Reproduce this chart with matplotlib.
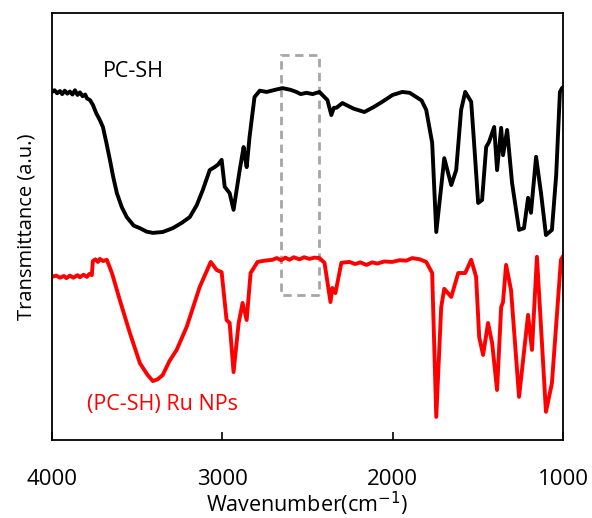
import numpy as np
import matplotlib
matplotlib.use('Agg')
import matplotlib.pyplot as plt
from matplotlib.patches import Rectangle

plt.rcParams['font.family'] = ['Open Sans', 'DejaVu Sans']

# PC-SH (black)
wn_pcsh = [4000, 3985, 3970, 3953, 3940, 3925, 3910, 3895, 3880, 3865, 3850, 3836, 3820, 3805,
           3795, 3777, 3760, 3740, 3720, 3701, 3680, 3660, 3640, 3619, 3590, 3561, 3520, 3484,
           3445, 3408, 3350, 3291, 3240, 3191, 3150, 3115, 3074, 3045, 3025, 3004, 2986, 2957,
           2934, 2898, 2875, 2866, 2857, 2840, 2811, 2780, 2740, 2690, 2647, 2600, 2565, 2540,
           2506, 2470, 2430, 2383, 2360, 2345, 2330, 2295, 2230, 2166, 2110, 2061, 2000, 1943,
           1900, 1861, 1830, 1803, 1768, 1744, 1715, 1697, 1656, 1627, 1598, 1574, 1539, 1522,
           1498, 1475, 1451, 1434, 1404, 1387, 1363, 1352, 1328, 1299, 1258, 1229, 1205, 1188,
           1158, 1129, 1100, 1065, 1040, 1018, 1006, 1000]
t_pcsh = [81.5, 81.9, 81.2, 81.7, 81.0, 81.8, 81.1, 81.6, 80.9, 81.9, 80.8, 81.4, 80.5, 80.9,
          80.0, 79.6, 78.5, 76.5, 75.0, 73.3, 69.5, 65.6, 61.5, 57.8, 54.5, 52.2, 50.2, 49.6,
          48.8, 48.5, 48.7, 49.6, 50.8, 52.2, 55.0, 58.5, 63.2, 63.9, 64.5, 65.6, 59.3, 57.8,
          53.9, 63.2, 68.6, 66.0, 63.9, 71.0, 80.3, 81.8, 81.5, 82.0, 82.4, 82.0, 81.5, 81.0,
          81.3, 81.0, 81.5, 79.6, 76.1, 77.8, 77.8, 78.9, 77.6, 76.8, 78.0, 79.2, 80.8, 81.5,
          81.3, 80.3, 79.5, 77.3, 69.6, 48.7, 59.3, 66.0, 59.7, 63.2, 77.3, 81.5, 79.2, 69.6,
          55.5, 56.2, 68.6, 69.8, 73.3, 63.2, 73.1, 66.7, 72.6, 60.2, 49.2, 49.6, 56.7, 53.2,
          66.3, 57.8, 48.0, 49.2, 62.0, 81.5, 82.4, 82.6]

# (PC-SH) Ru NPs (red)
wn_ru = [4000, 3975, 3953, 3930, 3915, 3895, 3875, 3850, 3836, 3815, 3795, 3780, 3766, 3760,
         3745, 3730, 3719, 3700, 3678, 3648, 3602, 3543, 3484, 3440, 3408, 3380, 3350, 3310,
         3268, 3209, 3133, 3068, 3033, 3004, 2975, 2957, 2934, 2904, 2881, 2857, 2834, 2793,
         2750, 2705, 2680, 2655, 2630, 2606, 2580, 2547, 2520, 2488, 2460, 2430, 2400, 2365,
         2354, 2336, 2301, 2254, 2220, 2190, 2154, 2120, 2090, 2050, 2002, 1960, 1920, 1885,
         1840, 1803, 1768, 1744, 1715, 1697, 1656, 1615, 1574, 1539, 1510, 1492, 1469, 1440,
         1416, 1387, 1363, 1352, 1334, 1305, 1258, 1205, 1182, 1153, 1100, 1065, 1012, 1000]
t_ru = [38.2, 38.5, 38.0, 38.4, 37.9, 38.5, 38.0, 38.6, 38.1, 38.7, 38.2, 38.9, 38.6, 41.9,
        42.3, 41.7, 42.4, 41.9, 42.2, 39.1, 32.8, 25.1, 18.0, 15.3, 13.8, 14.2, 15.2, 18.5,
        21.1, 26.5, 35.8, 41.7, 39.8, 39.3, 28.1, 27.4, 15.9, 27.4, 32.1, 28.1, 39.1, 41.7,
        42.0, 42.2, 42.6, 42.1, 42.7, 42.2, 42.8, 42.3, 42.8, 42.4, 42.7, 42.6, 41.5, 32.3,
        35.6, 34.4, 41.5, 41.7, 41.2, 41.6, 41.0, 41.6, 41.3, 41.8, 41.7, 42.1, 42.0, 42.6,
        42.3, 41.7, 39.1, 5.4, 31.1, 35.4, 33.5, 39.1, 39.1, 42.2, 38.2, 24.1, 19.9, 27.4,
        22.7, 11.7, 31.1, 32.3, 41.0, 35.1, 10.1, 29.3, 21.1, 42.9, 6.6, 13.3, 42.2, 43.0]

xticks = [4000, 3000, 2000, 1000]

fig = plt.figure(figsize=(5.92, 5.18), dpi=100)
ax = fig.add_axes([0.0878, 0.1506, 0.8632, 0.8244])

ax.plot(wn_pcsh, t_pcsh, color='black', lw=2.8, solid_joinstyle='round')
ax.plot(wn_ru, t_ru, color='#ff0000', lw=2.8, solid_joinstyle='round')

# highlighted region
ax.add_patch(Rectangle((2430, 34.0), 223, 56.2, fill=False, edgecolor='#a6a6a6',
                       lw=2.0, linestyle=(0, (3, 2))))

ax.text(3520, 86.3, 'PC-SH', fontsize=15.5, color='black', ha='center', va='center')
ax.text(3350, 8.3, '(PC-SH) Ru NPs', fontsize=15.5, color='#ff0000', ha='center', va='center')

ax.set_xlim(4000, 1000)
ax.set_ylim(0, 100)
ax.set_xticks(xticks)
ax.set_yticks([])
ax.tick_params(axis='x', direction='in', length=6, width=1.2, pad=21, labelsize=16)
for sp in ax.spines.values():
    sp.set_linewidth(1.3)
    sp.set_color('black')

ax.set_xlabel('Wavenumber(cm$^{-1}$)', fontsize=15.5, labelpad=0)
ax.set_ylabel('Transmittance (a.u.)', fontsize=14.5, labelpad=11)

fig.savefig('out.png', dpi=100)
